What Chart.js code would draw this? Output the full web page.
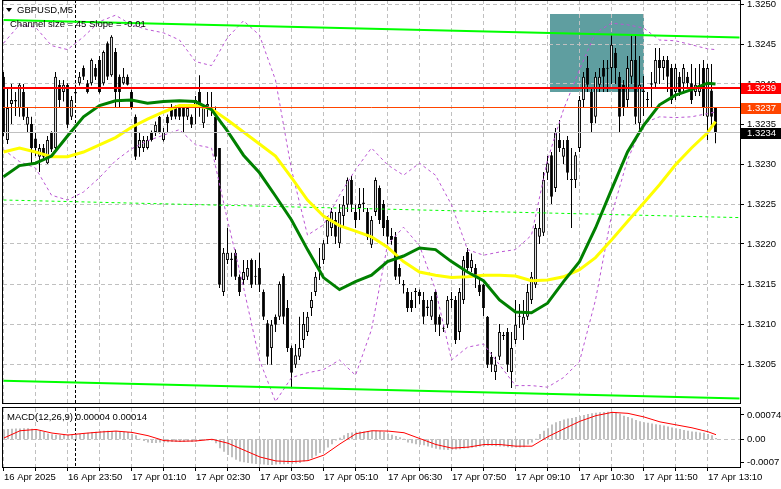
<!DOCTYPE html>
<html>
<head>
<meta charset="utf-8">
<script src="https://cdn.jsdelivr.net/npm/chart.js@4.4.1/dist/chart.umd.min.js"></script>
<style>
  html, body { margin: 0; padding: 0; background: #fff; }
  #wrap { position: relative; width: 781px; height: 489px; overflow: hidden; background: #fff; }
  #main { position: absolute; left: 0; top: 0; }
  #macd { position: absolute; left: 0; top: 404px; }
</style>
</head>
<body>
<div id="wrap">
  <canvas id="main" width="781" height="404"></canvas>
  <canvas id="macd" width="781" height="85"></canvas>
</div>
<script>
// GBPUSD M5, 16 Apr 22:30 .. 17 Apr 13:20 (one entry per bar)
const opens = [1.32409,1.3233,1.32375,1.32378,1.3237,1.3239,1.32349,1.3235,1.32332,1.32309,
  1.3232,1.32301,1.3234,1.3232,1.32399,1.3239,1.32399,1.32359,1.32388,1.32401,
  1.3242,1.32401,1.32401,1.3242,1.3243,1.32401,1.32451,1.32411,1.3244,1.32409,
  1.32401,1.32409,1.3239,1.32359,1.3232,1.3232,1.3232,1.3234,1.3234,1.32359,
  1.3233,1.32359,1.3237,1.3237,1.3237,1.3237,1.32359,1.32359,1.3237,1.3239,
  1.32351,1.32372,1.32371,1.32359,1.3232,1.3214,1.3218,1.32182,1.32189,1.32159,
  1.32155,1.32159,1.3218,1.3216,1.3217,1.3214,1.32101,1.3207,1.32109,1.32109,
  1.3216,1.3212,1.3207,1.32049,1.32059,1.3208,1.3209,1.3212,1.3214,1.32169,
  1.3218,1.32209,1.3222,1.3223,1.32201,1.32235,1.32249,1.3228,1.3224,1.32245,
  1.3225,1.3224,1.32199,1.3224,1.3227,1.3225,1.3223,1.3221,1.32209,1.3217,
  1.3215,1.3214,1.3213,1.3214,1.3214,1.3213,1.3212,1.32109,1.3214,1.32109,
  1.32095,1.32099,1.3213,1.3213,1.3209,1.3213,1.3219,1.3217,1.3217,1.32149,
  1.32149,1.32109,1.32059,1.3204,1.32059,1.32085,1.3209,1.3204,1.3208,1.32109,
  1.32099,1.32109,1.3213,1.32149,1.32209,1.32214,1.32289,1.32311,1.3227,1.3233,
  1.32309,1.3233,1.3228,1.3228,1.3232,1.3238,1.3242,1.3239,1.32359,1.32399,
  1.3242,1.32419,1.3242,1.32439,1.32409,1.32399,1.3238,1.32409,1.3243,1.32351,
  1.3239,1.3238,1.32399,1.32401,1.3243,1.3242,1.3243,1.3242,1.3239,1.32409,
  1.32401,1.32409,1.32401,1.3239,1.3239,1.3242,1.32359,1.32392,1.3237];
const highs = [1.32415,1.32395,1.324,1.3239,1.32401,1.324,1.3237,1.32359,1.3234,1.32325,
  1.32325,1.32335,1.32341,1.32415,1.32405,1.32405,1.32401,1.32385,1.32399,1.32415,
  1.32423,1.32405,1.32432,1.32425,1.32435,1.32442,1.32453,1.32461,1.32445,1.32412,
  1.3242,1.32412,1.32393,1.32362,1.3234,1.32335,1.32335,1.32342,1.32353,1.3236,
  1.32345,1.32362,1.32375,1.32373,1.32372,1.32373,1.32375,1.32362,1.32385,1.32411,
  1.32375,1.3239,1.3239,1.32372,1.3232,1.32195,1.3222,1.32189,1.32193,1.32162,
  1.3218,1.3218,1.32182,1.3218,1.32189,1.32143,1.32105,1.32105,1.32112,1.32153,
  1.32163,1.3213,1.32073,1.32075,1.32109,1.32115,1.32115,1.3214,1.32165,1.32195,
  1.32205,1.32235,1.32245,1.3224,1.3225,1.3226,1.32283,1.32285,1.32249,1.3227,
  1.3227,1.32245,1.32235,1.32283,1.32273,1.32255,1.32235,1.3222,1.32215,1.32175,
  1.32155,1.32145,1.3214,1.32145,1.32143,1.3214,1.3213,1.32135,1.32143,1.32112,
  1.32099,1.32135,1.3214,1.32135,1.32145,1.32185,1.32195,1.32188,1.32175,1.32155,
  1.3215,1.3211,1.32065,1.32059,1.321,1.3209,1.32095,1.3209,1.3213,1.32125,
  1.3213,1.3215,1.32165,1.32225,1.32245,1.3229,1.3231,1.32315,1.32345,1.32355,
  1.3233,1.32335,1.3232,1.32315,1.32385,1.32415,1.32435,1.32395,1.32415,1.3242,
  1.3243,1.3243,1.32461,1.32445,1.32415,1.32405,1.32435,1.32461,1.3246,1.32435,
  1.3241,1.3239,1.32415,1.32445,1.32445,1.32435,1.32435,1.32425,1.32425,1.32415,
  1.32425,1.32415,1.32425,1.3242,1.32425,1.3243,1.32425,1.32425,1.3237];
const lows = [1.32335,1.32325,1.3235,1.3236,1.32359,1.32355,1.32339,1.32301,1.3231,1.3229,
  1.32305,1.323,1.32315,1.32315,1.3237,1.32378,1.32345,1.32355,1.3238,1.32398,
  1.32405,1.32388,1.32398,1.32405,1.32388,1.32398,1.32405,1.32409,1.3237,1.3237,
  1.32399,1.32398,1.32368,1.32305,1.32309,1.32315,1.32318,1.32328,1.32335,1.32338,
  1.32328,1.3234,1.32355,1.32356,1.32355,1.3234,1.32355,1.32345,1.3235,1.32359,
  1.32345,1.32359,1.3236,1.32305,1.32145,1.32135,1.32175,1.32159,1.32155,1.32135,
  1.32149,1.32155,1.32145,1.32149,1.3214,1.32105,1.32049,1.32049,1.3209,1.32105,
  1.321,1.32065,1.3202,1.32045,1.32055,1.3207,1.32085,1.3211,1.32135,1.32155,
  1.32175,1.322,1.3221,1.322,1.32195,1.3222,1.3224,1.3224,1.3222,1.3223,
  1.3224,1.32205,1.32195,1.32235,1.32225,1.3221,1.322,1.32199,1.32155,1.3215,
  1.32138,1.32115,1.32115,1.3212,1.32125,1.321,1.3211,1.32105,1.3209,1.32085,
  1.3209,1.32095,1.3212,1.32075,1.3208,1.32125,1.32165,1.32165,1.32145,1.32135,
  1.3211,1.32045,1.3204,1.3203,1.32055,1.3208,1.3204,1.3202,1.32075,1.32095,
  1.3208,1.32105,1.32125,1.32145,1.322,1.3221,1.3228,1.3225,1.32265,1.32315,
  1.323,1.3228,1.3222,1.3227,1.32315,1.3237,1.3239,1.3234,1.32351,1.3239,
  1.3239,1.3239,1.324,1.324,1.3234,1.3236,1.3237,1.324,1.3235,1.3234,
  1.3236,1.3237,1.3237,1.32395,1.324,1.32405,1.3239,1.32375,1.3238,1.32385,
  1.3239,1.32395,1.32375,1.32385,1.32385,1.3236,1.3233,1.32349,1.32326];
const closes = [1.3234,1.3237,1.3238,1.3238,1.32399,1.32359,1.32359,1.3232,1.3232,1.3232,
  1.32309,1.3233,1.32318,1.32409,1.3238,1.32399,1.32349,1.3238,1.3239,1.32409,
  1.32409,1.3239,1.3243,1.32409,1.3239,1.3244,1.32409,1.32459,1.3239,1.3239,
  1.32409,1.32399,1.3237,1.32309,1.3233,1.3233,1.3233,1.3233,1.32349,1.3234,
  1.3234,1.32351,1.32359,1.32359,1.32359,1.32359,1.3237,1.32349,1.3238,1.3237,
  1.32371,1.32375,1.32368,1.32309,1.32149,1.32189,1.32189,1.3218,1.32159,1.3214,
  1.32165,1.3217,1.32149,1.32159,1.32149,1.32109,1.32059,1.32099,1.32099,1.3215,
  1.32109,1.3207,1.32039,1.32061,1.3207,1.321,1.32109,1.3213,1.32159,1.32172,
  1.32201,1.3223,1.3224,1.32209,1.3224,1.32249,1.3228,1.32249,1.3223,1.3225,
  1.32252,1.32209,1.3223,1.3228,1.3223,1.3222,1.32209,1.32205,1.32159,1.32159,
  1.32148,1.3212,1.3212,1.32141,1.32135,1.32109,1.32122,1.3213,1.32099,1.32099,
  1.32094,1.3213,1.32131,1.3208,1.3214,1.3218,1.3217,1.3218,1.32159,1.3214,
  1.3212,1.32049,1.32049,1.32049,1.3209,1.32086,1.32049,1.3207,1.32099,1.3211,
  1.32109,1.3214,1.32159,1.3222,1.3222,1.3228,1.32301,1.32259,1.3234,1.3232,
  1.3232,1.32289,1.32281,1.32311,1.3238,1.32409,1.32399,1.32351,1.32409,1.32409,
  1.32409,1.3242,1.32449,1.3242,1.32359,1.3237,1.3242,1.3243,1.32359,1.32399,
  1.32392,1.3238,1.32401,1.3243,1.3242,1.3243,1.32409,1.3238,1.3242,1.3239,
  1.3242,1.32401,1.3238,1.32399,1.32399,1.3237,1.3242,1.32359,1.3234];

// indicator lines read every 4 bars
const lineIdx = [0,4,8,12,16,20,24,28,32,36,40,44,48,52,56,60,64,68,72,76,80,84,88,92,96,
  100,104,108,112,116,120,124,128,132,136,140,144,148,152,156,160,164,168,172,176,178];
const maFast = [1.32284,1.32298,1.32301,1.3231,1.32335,1.32359,1.32373,1.32379,1.3238,1.32376,
  1.32378,1.32379,1.32378,1.32368,1.32341,1.32311,1.32289,1.3226,1.3223,1.32193,
  1.32158,1.32143,1.32153,1.32161,1.32178,1.32185,1.32195,1.32193,1.32178,1.32165,
  1.32154,1.3213,1.32115,1.32114,1.32126,1.32153,1.32178,1.3222,1.32268,1.32315,
  1.32348,1.32374,1.32386,1.32393,1.32401,1.324];
const maSlow = [1.32315,1.3232,1.32315,1.32309,1.32309,1.32315,1.32324,1.32333,1.32346,1.32356,
  1.32365,1.32373,1.32373,1.32369,1.32355,1.3234,1.32325,1.3231,1.32283,1.32255,
  1.32235,1.32223,1.32216,1.32209,1.32196,1.32178,1.32165,1.32161,1.32158,1.32159,
  1.32161,1.32161,1.3216,1.32154,1.32155,1.32159,1.32168,1.32183,1.32205,1.32228,
  1.32251,1.32274,1.32299,1.3232,1.32339,1.32353];
const bandUpper = [1.32451,1.32474,1.32471,1.32448,1.32443,1.32459,1.32478,1.32486,1.32474,1.32468,
  1.32464,1.32455,1.32428,1.32423,1.32458,1.32479,1.32461,1.32405,1.32293,1.32211,
  1.32224,1.32261,1.32293,1.3232,1.32299,1.32286,1.32301,1.32286,1.32249,1.32193,
  1.32186,1.3219,1.32193,1.32211,1.32305,1.32368,1.32418,1.32464,1.32476,1.32474,
  1.3247,1.32455,1.32454,1.32449,1.32444,1.32443];
const bandLower = [1.32318,1.32303,1.32295,1.32261,1.32255,1.32265,1.32283,1.32304,1.32319,1.32329,
  1.32336,1.32343,1.32324,1.3232,1.3223,1.32146,1.32055,1.32003,1.32033,1.32039,
  1.32043,1.32055,1.32036,1.32093,1.32199,1.32221,1.32198,1.32143,1.32055,1.32071,
  1.32075,1.32049,1.32023,1.32023,1.32021,1.32033,1.32053,1.3213,1.32236,1.32305,
  1.32351,1.32359,1.32358,1.32359,1.32363,1.32365];

// regression channel (start bar, end of ray)
const channelIdx = [0, 184];
const channelUpper = [1.3248, 1.32458];
const channelMid = [1.32255, 1.32233];
const channelLower = [1.32029, 1.32007];

// MACD(12,26,9)
const macdHist = [0.0003,0.00031,0.00032,0.00033,0.00033,0.00034,0.00034,0.00032,0.00029,0.00026,
  0.00022,0.00018,0.00015,0.00014,0.00013,0.00013,0.00014,0.00014,0.00015,0.00016,
  0.00018,0.0002,0.00022,0.00023,0.00025,0.00026,0.00026,0.00025,0.00025,0.00024,
  0.00023,0.00022,0.00017,0.00012,0.00002,-0.00005,-0.0001,-0.00011,-0.00011,-0.0001,
  -0.0001,-0.00009,-0.00008,-0.00008,-0.00008,-0.00008,-0.00007,-0.00008,-0.00007,-0.00004,
  -0.00003,-0.00003,-0.00004,-0.00012,-0.00027,-0.00038,-0.00048,-0.00055,-0.00062,-0.00068,
  -0.0007,-0.00072,-0.00074,-0.00075,-0.00076,-0.00077,-0.00078,-0.00078,-0.00077,-0.00076,
  -0.00076,-0.00075,-0.00075,-0.00074,-0.00072,-0.00068,-0.00064,-0.00058,-0.0005,-0.00042,
  -0.00035,-0.00025,-0.00015,-0.00004,0.00005,0.00012,0.00019,0.00021,0.00023,0.00024,
  0.00024,0.00025,0.00025,0.00026,0.00025,0.00022,0.00018,0.00014,0.0001,0.00006,
  0.00002,-0.0001,-0.00012,-0.00015,-0.00017,-0.00018,-0.00022,-0.00026,-0.00029,-0.00031,
  -0.00032,-0.00033,-0.00032,-0.00031,-0.0003,-0.00028,-0.00027,-0.00026,-0.00024,-0.00022,
  -0.00021,-0.0002,-0.0002,-0.00021,-0.00022,-0.00022,-0.00024,-0.00025,-0.00025,-0.00025,
  -0.00024,-0.00016,-0.0001,0.00002,0.00016,0.00026,0.00034,0.00045,0.00052,0.00056,
  0.0006,0.00063,0.00065,0.00068,0.00071,0.00074,0.00077,0.00079,0.00081,0.00082,
  0.00083,0.00084,0.00084,0.00082,0.00078,0.00072,0.00068,0.00064,0.00059,0.00055,
  0.00052,0.0005,0.00048,0.00046,0.00044,0.00042,0.00039,0.00036,0.00034,0.00031,
  0.00028,0.00026,0.00024,0.00023,0.00021,0.0002,0.00016,0.00012,0.00004];
const macdSignal = [0.00004,0.00026,0.0003,0.00019,0.00013,0.00018,0.00022,0.00025,0.00021,0.00011,
  -0.00004,-0.00006,-0.00005,0,-0.00012,-0.00033,-0.00054,-0.00066,-0.00068,-0.00065,
  -0.00048,-0.00014,0.00017,0.00026,0.00025,0.0002,0.00002,-0.00016,-0.00027,-0.00024,
  -0.00016,-0.00016,-0.00021,-0.00021,0.00008,0.00032,0.00055,0.00072,0.00082,0.00079,
  0.00068,0.00053,0.00044,0.00035,0.00023,0.00014];

// axes
const priceTicks = [1.3205,1.321,1.3215,1.322,1.3225,1.323,1.3235,1.324,1.3245,1.325];
const macdTicks = [0.00074, 0, -0.0007];
const macdTickLabels = ['0.00074', '0.00', '-0.0007'];
const timeIdx = [0,16,32,48,64,80,96,112,128,144,160,176];
const timeLabels = ['16 Apr 2025','16 Apr 23:50','17 Apr 01:10','17 Apr 02:30','17 Apr 03:50','17 Apr 05:10',
  '17 Apr 06:30','17 Apr 07:50','17 Apr 09:10','17 Apr 10:30','17 Apr 11:50','17 Apr 13:10'];
const separatorIdx = 18; // 17 Apr 00:00

// objects on the chart
const levelPrices = [1.32395, 1.3237, 1.32339];
const levelLabels = ['1.3239', '1.3237', '1.3234'];
const boxIdx = [136.5, 160];
const boxPrice = [1.32488, 1.3239];

const FONT = '"Liberation Sans", Arial, sans-serif';
const FS = 9.5;
Chart.defaults.font.family = FONT;
Chart.defaults.font.size = FS;
Chart.defaults.color = '#000';

const barIdx = opens.map((_, i) => i);
const gridIdx = [];
for (let i = 0; i <= 176; i += 8) gridIdx.push(i);
const toXY = (idx, vals) => idx.map((i, k) => ({ x: i, y: vals[k] }));
const crisp = v => Math.floor(v) + 0.5;

function lineSet(data, color, width, dash, order) {
  return { type: 'line', data, borderColor: color, borderWidth: width, borderDash: dash || [],
    pointRadius: 0, tension: 0, fill: false, order };
}

const mainDecor = {
  id: 'mainDecor',
  beforeDatasetsDraw(chart) {
    const { ctx, chartArea: a, scales: { x, y } } = chart;
    ctx.save();
    // rectangle object
    const bx1 = x.getPixelForValue(boxIdx[0]), bx2 = x.getPixelForValue(boxIdx[1]);
    const by1 = y.getPixelForValue(boxPrice[0]), by2 = y.getPixelForValue(boxPrice[1]);
    ctx.fillStyle = '#5f9ea0';
    ctx.fillRect(Math.round(bx1), Math.round(by1), Math.round(bx2 - bx1), Math.round(by2 - by1));
    // grid
    ctx.strokeStyle = '#c0c0c0';
    ctx.lineWidth = 1;
    ctx.setLineDash([4, 3]);
    ctx.beginPath();
    priceTicks.forEach(v => {
      const yy = crisp(y.getPixelForValue(v));
      ctx.moveTo(a.left, yy); ctx.lineTo(a.right, yy);
    });
    gridIdx.forEach(v => {
      const xx = crisp(x.getPixelForValue(v));
      ctx.moveTo(xx, a.top); ctx.lineTo(xx, a.bottom);
    });
    ctx.stroke();
    // day separator
    ctx.strokeStyle = '#000';
    ctx.setLineDash([3, 2]);
    ctx.beginPath();
    const sx = crisp(x.getPixelForValue(separatorIdx));
    ctx.moveTo(sx, a.top); ctx.lineTo(sx, a.bottom);
    ctx.stroke();
    ctx.restore();
  },
  afterDatasetsDraw(chart) {
    const { ctx, chartArea: a, scales: { y } } = chart;
    ctx.save();
    const styles = [['#ff0000', 2], ['#ff4500', 1], ['#c0c0c0', 1]];
    levelPrices.forEach((p, k) => {
      const [c, w] = styles[k];
      let yy = y.getPixelForValue(p);
      yy = w % 2 ? crisp(yy) : Math.round(yy);
      ctx.strokeStyle = c; ctx.lineWidth = w;
      ctx.beginPath(); ctx.moveTo(a.left, yy); ctx.lineTo(a.right, yy); ctx.stroke();
    });
    ctx.restore();
  },
  afterDraw(chart) {
    const { ctx, chartArea: a, scales: { y } } = chart;
    ctx.save();
    // frame
    ctx.strokeStyle = '#000'; ctx.lineWidth = 1;
    ctx.strokeRect(a.left - 0.5, a.top + 0.5, a.right - a.left + 1, a.bottom - a.top);
    // price tick marks
    ctx.beginPath();
    priceTicks.forEach(v => {
      const yy = crisp(y.getPixelForValue(v));
      ctx.moveTo(a.right, yy); ctx.lineTo(a.right + 4, yy);
    });
    ctx.stroke();
    // price tags
    const tagColors = ['#ff0000', '#ff4500', '#000000'];
    ctx.font = FS + 'px ' + FONT;
    ctx.textBaseline = 'middle';
    levelPrices.forEach((p, k) => {
      const yy = Math.round(y.getPixelForValue(p));
      ctx.fillStyle = tagColors[k];
      ctx.fillRect(a.right + 1, yy - 5, 41, 11);
      ctx.fillStyle = '#fff';
      ctx.fillText(levelLabels[k], a.right + 7, yy + 0.5);
    });
    // header
    ctx.fillStyle = '#000';
    ctx.beginPath();
    ctx.moveTo(6, 8); ctx.lineTo(12, 8); ctx.lineTo(9, 12); ctx.closePath();
    ctx.fill();
    ctx.fillText('GBPUSD,M5', 17, 10.5);
    ctx.fillText('Channel size = 45 Slope = -0.01', 10, 24.5);
    ctx.restore();
  }
};

new Chart(document.getElementById('main'), {
  type: 'bar',
  data: {
    datasets: [
      lineSet(toXY(lineIdx, maFast), '#008000', 3, null, 0),
      lineSet(toXY(lineIdx, maSlow), '#ffff00', 3, null, 1),
      lineSet(toXY(channelIdx, channelUpper), '#00ff00', 2, null, 2),
      lineSet(toXY(channelIdx, channelLower), '#00ff00', 2, null, 2),
      lineSet(toXY(channelIdx, channelMid), '#00ff00', 1, [3, 3], 2),
      lineSet(toXY(lineIdx, bandUpper), '#ba55d3', 1, [3, 3], 3),
      lineSet(toXY(lineIdx, bandLower), '#ba55d3', 1, [3, 3], 3),
      {
        type: 'bar', order: 5, grouped: false, inflateAmount: 0,
        data: barIdx.map(i => ({ x: i, y: [opens[i], closes[i]] })),
        backgroundColor: barIdx.map(i => (closes[i] >= opens[i] ? '#ffffff' : '#000000')),
        borderColor: '#000', borderWidth: 1, borderSkipped: false,
        maxBarThickness: 3, minBarLength: 1
      },
      {
        type: 'bar', order: 6, grouped: false, inflateAmount: 0,
        data: barIdx.map(i => ({ x: i, y: [lows[i], highs[i]] })),
        backgroundColor: '#000', borderWidth: 0, maxBarThickness: 1
      }
    ]
  },
  options: {
    responsive: false, animation: false, devicePixelRatio: 1, events: [],
    layout: { padding: { left: 3, top: 0, right: 0, bottom: 1 } },
    plugins: { legend: { display: false }, tooltip: { enabled: false } },
    scales: {
      x: { type: 'linear', min: -0.125, max: 184.125, bounds: 'data', offset: false, display: false },
      y: {
        type: 'linear', position: 'right', min: 1.3200125, max: 1.32505, bounds: 'data',
        afterBuildTicks: s => { s.ticks = priceTicks.map(v => ({ value: v })); },
        afterFit: s => { s.width = 41; s.paddingTop = 0; s.paddingBottom = 0; },
        grid: { display: false, drawTicks: false },
        border: { display: false },
        ticks: { padding: 7, color: '#000', callback: v => v.toFixed(4) }
      }
    }
  },
  plugins: [mainDecor]
});

const macdDecor = {
  id: 'macdDecor',
  beforeDatasetsDraw(chart) {
    const { ctx, chartArea: a, scales: { x, y } } = chart;
    ctx.save();
    ctx.strokeStyle = '#c0c0c0'; ctx.lineWidth = 1; ctx.setLineDash([4, 3]);
    ctx.beginPath();
    gridIdx.forEach(v => {
      const xx = crisp(x.getPixelForValue(v) - 0.5);
      ctx.moveTo(xx, a.top); ctx.lineTo(xx, a.bottom);
    });
    const zy = crisp(y.getPixelForValue(0));
    ctx.moveTo(a.left, zy); ctx.lineTo(a.right, zy);
    ctx.stroke();
    ctx.strokeStyle = '#000'; ctx.setLineDash([3, 2]);
    ctx.beginPath();
    const sx = crisp(x.getPixelForValue(separatorIdx) - 0.5);
    ctx.moveTo(sx, a.top); ctx.lineTo(sx, a.bottom);
    ctx.stroke();
    ctx.restore();
  },
  afterDraw(chart) {
    const { ctx, chartArea: a, scales: { x, y } } = chart;
    ctx.save();
    ctx.strokeStyle = '#000'; ctx.lineWidth = 1;
    ctx.strokeRect(a.left - 0.5, a.top - 0.5, a.right - a.left + 1, a.bottom - a.top + 1);
    ctx.beginPath();
    macdTicks.forEach(v => {
      const yy = crisp(y.getPixelForValue(v));
      ctx.moveTo(a.right, yy); ctx.lineTo(a.right + 4, yy);
    });
    gridIdx.forEach(v => {
      const xx = crisp(x.getPixelForValue(v) - 0.5);
      ctx.moveTo(xx, a.bottom); ctx.lineTo(xx, a.bottom + 4);
    });
    ctx.stroke();
    ctx.fillStyle = '#000';
    ctx.font = FS + 'px ' + FONT;
    ctx.textBaseline = 'middle';
    ctx.fillText('MACD(12,26,9) 0.00004 0.00014', 7, 13);
    ctx.restore();
  }
};

new Chart(document.getElementById('macd'), {
  type: 'bar',
  data: {
    datasets: [
      lineSet(toXY(lineIdx, macdSignal), '#ff0000', 1, null, 0),
      {
        type: 'bar', order: 1, grouped: false, inflateAmount: 0,
        data: barIdx.map(i => ({ x: i, y: macdHist[i] })),
        backgroundColor: '#c0c0c0', borderWidth: 0, maxBarThickness: 2
      }
    ]
  },
  options: {
    responsive: false, animation: false, devicePixelRatio: 1, events: [],
    layout: { padding: { left: 3, top: 4, right: 0, bottom: 0 } },
    plugins: { legend: { display: false }, tooltip: { enabled: false } },
    scales: {
      x: {
        type: 'linear', position: 'bottom', min: -0.25, max: 184, bounds: 'data', offset: false,
        afterBuildTicks: s => { s.ticks = timeIdx.map(v => ({ value: v })); },
        afterFit: s => { s.height = 22; s.paddingLeft = 0; s.paddingRight = 0; },
        grid: { display: false, drawTicks: false },
        border: { display: false },
        ticks: { padding: 5, align: 'start', autoSkip: false, maxRotation: 0, color: '#000',
          callback: v => timeLabels[timeIdx.indexOf(v)] }
      },
      y: {
        type: 'linear', position: 'right', min: -0.000844, max: 0.000953, bounds: 'data',
        afterBuildTicks: s => { s.ticks = macdTicks.map(v => ({ value: v })); },
        afterFit: s => { s.width = 41; s.paddingTop = 0; s.paddingBottom = 0; },
        grid: { display: false, drawTicks: false },
        border: { display: false },
        ticks: { padding: 7, color: '#000', callback: v => macdTickLabels[macdTicks.indexOf(v)] }
      }
    }
  },
  plugins: [macdDecor]
});
</script>
</body>
</html>
